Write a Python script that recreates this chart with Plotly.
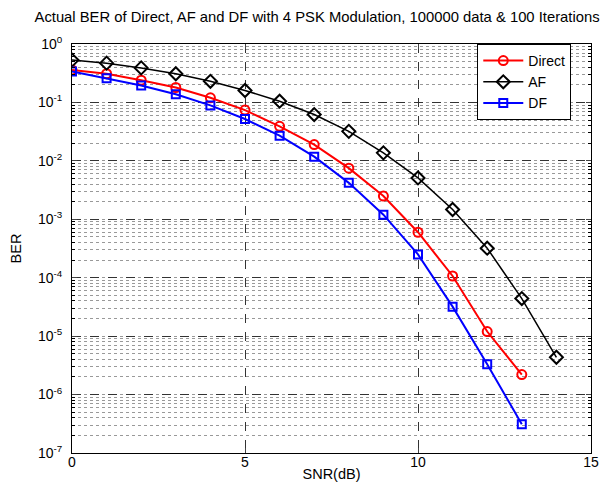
import plotly.graph_objects as go

snr_direct = list(range(0, 14))
ber_direct = [0.36, 0.31, 0.24, 0.18, 0.12, 0.074, 0.039, 0.019, 0.0075, 0.0025,
              6.0e-4, 1.07e-4, 1.2e-5, 2.2e-6]
snr_af = list(range(0, 15))
ber_af = [0.53, 0.47, 0.39, 0.31, 0.23, 0.16, 0.105, 0.062, 0.032, 0.0137,
          0.0051, 0.00147, 3.2e-4, 4.4e-5, 4.35e-6]
snr_df = list(range(0, 14))
ber_df = [0.34, 0.26, 0.195, 0.138, 0.089, 0.052, 0.027, 0.0118, 0.0042, 0.0012,
          2.5e-4, 3.2e-5, 3.3e-6, 3.1e-7]

y_tickvals = [1e0, 1e-1, 1e-2, 1e-3, 1e-4, 1e-5, 1e-6, 1e-7]
y_ticktext = ["10<sup>0</sup>", "10<sup>-1</sup>", "10<sup>-2</sup>", "10<sup>-3</sup>",
              "10<sup>-4</sup>", "10<sup>-5</sup>", "10<sup>-6</sup>", "10<sup>-7</sup>"]
x_tickvals = [0, 5, 10, 15]

title = "Actual BER of Direct, AF and DF with 4 PSK Modulation, 100000 data & 100 Iterations"

fig = go.Figure()
fig.add_trace(go.Scatter(x=snr_direct, y=ber_direct, name="Direct", mode="lines+markers",
                         line=dict(color="#ff0000", width=2),
                         marker=dict(symbol="circle-open", size=9, color="#ff0000",
                                     line=dict(width=2, color="#ff0000"))))
fig.add_trace(go.Scatter(x=snr_af, y=ber_af, name="AF", mode="lines+markers",
                         line=dict(color="#000000", width=1.5),
                         marker=dict(symbol="diamond-open", size=10, color="#000000",
                                     line=dict(width=2, color="#000000"))))
fig.add_trace(go.Scatter(x=snr_df, y=ber_df, name="DF", mode="lines+markers",
                         line=dict(color="#0000ff", width=2),
                         marker=dict(symbol="square-open", size=8, color="#0000ff",
                                     line=dict(width=2, color="#0000ff"))))

font = "Liberation Sans, Arial, sans-serif"
fig.update_layout(
    width=612, height=487,
    margin=dict(l=64, r=29, t=36, b=42),
    paper_bgcolor="white", plot_bgcolor="white",
    font=dict(family=font, size=14, color="black"),
    title=dict(text=title, x=0.505, xanchor="center", y=0.992, yanchor="top",
               font=dict(family=font, size=14.8, color="black")),
    showlegend=True,
    legend=dict(x=0.962, xanchor="right", y=1.0, yanchor="top",
                bordercolor="black", borderwidth=1, bgcolor="white",
                font=dict(family=font, size=14), itemwidth=40,
                tracegroupgap=0),
    xaxis=dict(range=[0, 15], tickvals=x_tickvals, ticks="inside", ticklen=5,
               showline=True, linecolor="black", linewidth=1, mirror="ticks",
               showgrid=True, gridcolor="#333333", griddash="dash", gridwidth=1,
               zeroline=False, tickfont=dict(size=14), ticklabelstandoff=-4,
               automargin=False,
               title=dict(text="SNR(dB)", font=dict(size=14.5), standoff=0)),
    yaxis=dict(type="log", range=[-7, 0], tickvals=y_tickvals, ticktext=y_ticktext,
               ticks="inside", ticklen=5, showline=True, linecolor="black", linewidth=1,
               mirror="ticks", showgrid=True, gridcolor="#333333", griddash="dash",
               gridwidth=1, zeroline=False, tickfont=dict(size=14), ticklabelstandoff=6,
               automargin=False,
               minor=dict(dtick="D1", showgrid=True, gridcolor="#999999", griddash="dot",
                          gridwidth=1, ticks="inside", ticklen=3, tickcolor="black"),
               title=dict(text="BER", font=dict(size=14.5), standoff=18)),
)

fig.write_html("out.html")
